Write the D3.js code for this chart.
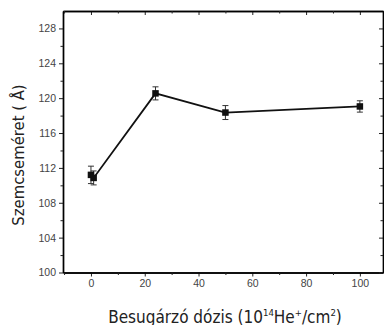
<!DOCTYPE html>
<html>
<head>
<meta charset="utf-8">
<script src="https://cdn.jsdelivr.net/npm/d3@7"></script>
<style>
  body { margin: 0; background: #fff; }
  svg { display: block; }
</style>
</head>
<body>
<div id="chart"></div>
<script>
var w = 384, h = 325;
var margin = { top: 11, right: 1, bottom: 52.5, left: 63 };

// Data
var doses = [0, 1, 24, 50, 100];
var sizes = [111.2, 110.85, 120.55, 118.35, 119.05];
var errors = [1.0, 0.8, 0.75, 0.8, 0.65];
var xTicks = [0, 20, 40, 60, 80, 100];
var yTicks = [100, 104, 108, 112, 116, 120, 124, 128];

var data = doses.map(function(d, i) { return { x: d, y: sizes[i], e: errors[i] }; });

var svg = d3.select("#chart").append("svg")
    .attr("width", w)
    .attr("height", h);

var x = d3.scaleLinear().domain([-10.4, 108.6]).range([margin.left, w - margin.right]);
var y = d3.scaleLinear().domain([100, 130]).range([h - margin.bottom, margin.top]);

var axisColor = "#222";
var xMinor = [-10, 10, 30, 50, 70, 90];
var yMinor = d3.range(102, 130, 4);

// Bottom axis (outward ticks)
svg.append("g")
    .attr("transform", `translate(0, ${h - margin.bottom})`)
    .call(d3.axisBottom(x).tickValues(xTicks).tickSize(4).tickSizeOuter(0).tickPadding(3));
svg.append("g")
    .attr("transform", `translate(0, ${h - margin.bottom})`)
    .call(d3.axisBottom(x).tickValues(xMinor).tickSize(2.5).tickSizeOuter(0).tickFormat(""));

// Left axis
svg.append("g")
    .attr("transform", `translate(${margin.left}, 0)`)
    .call(d3.axisLeft(y).tickValues(yTicks).tickSize(4).tickSizeOuter(0).tickPadding(3));
svg.append("g")
    .attr("transform", `translate(${margin.left}, 0)`)
    .call(d3.axisLeft(y).tickValues(yMinor).tickSize(2.5).tickSizeOuter(0).tickFormat(""));

// Top axis (inward ticks)
svg.append("g")
    .attr("transform", `translate(0, ${margin.top})`)
    .call(d3.axisBottom(x).tickValues(xTicks).tickSize(4).tickSizeOuter(0).tickFormat(""));
svg.append("g")
    .attr("transform", `translate(0, ${margin.top})`)
    .call(d3.axisBottom(x).tickValues(xMinor).tickSize(2.5).tickSizeOuter(0).tickFormat(""));

// Right axis (inward ticks)
svg.append("g")
    .attr("transform", `translate(${w - margin.right}, 0)`)
    .call(d3.axisLeft(y).tickValues(yTicks).tickSize(4).tickSizeOuter(0).tickFormat(""));
svg.append("g")
    .attr("transform", `translate(${w - margin.right}, 0)`)
    .call(d3.axisLeft(y).tickValues(yMinor).tickSize(2.5).tickSizeOuter(0).tickFormat(""));

svg.selectAll(".domain").attr("stroke", "#000").attr("stroke-width", 1.4);
svg.selectAll(".tick line").attr("stroke", axisColor).attr("stroke-width", 1);
svg.selectAll(".tick text")
    .attr("fill", "#444")
    .style("font-family", "'Liberation Sans', Arial, sans-serif")
    .style("font-size", "10.5px");

// Line
var line = d3.line().x(function(d) { return x(d.x); }).y(function(d) { return y(d.y); });
svg.append("path")
    .datum(data)
    .attr("fill", "none")
    .attr("stroke", "#111")
    .attr("stroke-width", 1.8)
    .attr("d", line);

// Error bars
var eb = svg.append("g").attr("stroke", "#333").attr("stroke-width", 1);
data.forEach(function(d) {
    eb.append("line")
      .attr("x1", x(d.x)).attr("x2", x(d.x))
      .attr("y1", y(d.y - d.e)).attr("y2", y(d.y + d.e));
    [d.y - d.e, d.y + d.e].forEach(function(v) {
        eb.append("line")
          .attr("x1", x(d.x) - 3).attr("x2", x(d.x) + 3)
          .attr("y1", y(v)).attr("y2", y(v));
    });
});

// Square markers
svg.selectAll("rect.pt")
    .data(data)
    .enter()
    .append("rect")
    .attr("class", "pt")
    .attr("x", function(d) { return x(d.x) - 3.25; })
    .attr("y", function(d) { return y(d.y) - 3.25; })
    .attr("width", 6.5)
    .attr("height", 6.5)
    .attr("fill", "#111");

// Axis labels
var labelFont = "'DejaVu Sans Condensed', 'DejaVu Sans', sans-serif";

svg.append("text")
    .attr("transform", "translate(24, 155) rotate(-90)")
    .attr("text-anchor", "middle")
    .attr("fill", "#222")
    .style("font-family", labelFont)
    .style("font-size", "16.5px")
    .text("Szemcseméret ( Å)");

var xl = svg.append("text")
    .attr("x", 225)
    .attr("y", 322.5)
    .attr("text-anchor", "middle")
    .attr("fill", "#222")
    .style("font-family", labelFont)
    .style("font-size", "17px");
xl.append("tspan").text("Besugárzó dózis (10");
xl.append("tspan").attr("dy", -7).style("font-size", "9.5px").text("14");
xl.append("tspan").attr("dy", 7).text("He");
xl.append("tspan").attr("dy", -7).style("font-size", "9.5px").text("+");
xl.append("tspan").attr("dy", 7).text("/cm");
xl.append("tspan").attr("dy", -7).style("font-size", "9.5px").text("2");
xl.append("tspan").attr("dy", 7).text(")");
</script>
</body>
</html>
